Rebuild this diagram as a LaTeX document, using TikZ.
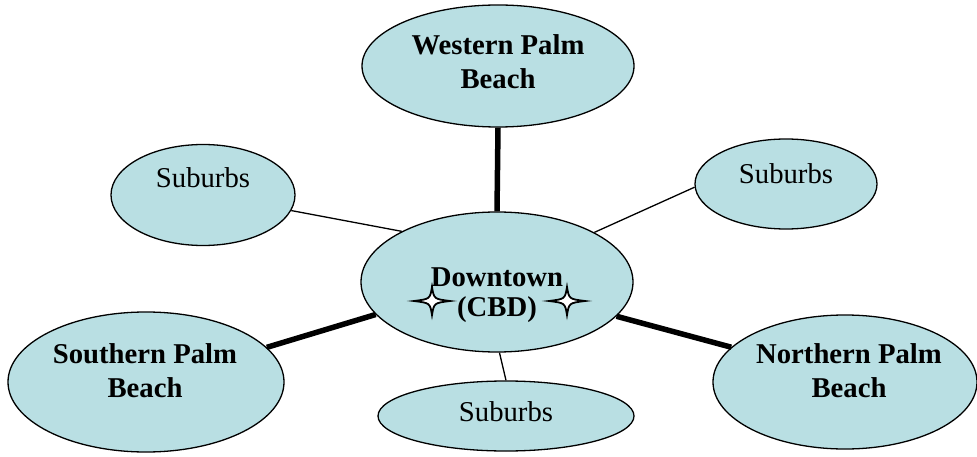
\documentclass[tikz,border=0pt]{standalone}
\usepackage{fontspec}
\setmainfont{Liberation Serif}
\usetikzlibrary{shapes.geometric}
\definecolor{aqua}{RGB}{185,223,227}
\tikzset{
  oval/.style={ellipse, draw=black, line width=1.3pt, fill=aqua, inner sep=0pt},
  big/.style={font=\fontsize{28.7}{34}\selectfont\bfseries, align=center, anchor=base},
  small/.style={font=\fontsize{28.7}{34}\selectfont, anchor=base},
  thickln/.style={line width=5.5pt},
  thinln/.style={line width=1.3pt},
  sparkle/.style={draw=black, line width=1.8pt, fill=white, line join=miter}
}
\begin{document}
\begin{tikzpicture}[x=1pt,y=-1pt]
\path[use as bounding box] (0,0) rectangle (977,457);
% ovals
\node[oval, minimum width=272pt, minimum height=122pt] (w) at (498,66) {};
\node[oval, minimum width=184pt, minimum height=101pt] (sl) at (203,195) {};
\node[oval, minimum width=182pt, minimum height=90pt] (sr) at (786,184) {};
\node[oval, minimum width=272pt, minimum height=140pt] (d) at (497,282) {};
\node[oval, minimum width=276pt, minimum height=140pt] (s) at (146,382) {};
\node[oval, minimum width=264pt, minimum height=134pt] (n) at (845,382) {};
\node[oval, minimum width=256pt, minimum height=70pt] (sb) at (506,416) {};
% connectors
\draw[thickln] (w.south) -- (d.north);
\draw[thinln] (d.152.7) -- (sl.-10.5);
\draw[thinln] (d.27.3) -- (sr.182);
\draw[thickln] (d.195.75) -- (s.16.3);
\draw[thickln] (d.-16) -- (n.163.3);
\draw[thinln] (d.-88) -- (sb.north);
% texts
\node[big] (wt1) at (498,55) {Western Palm};
\node[big] (wt2) at (498,89) {Beach};
\node[big] (dt1) at (497,286) {Downtown};
\node[big] (dt2) at (497,316) {(CBD)};
\node[big] (st1) at (145,363) {Southern Palm};
\node[big] (st2) at (145,397) {Beach};
\node[big] (nt1) at (849,363) {Northern Palm};
\node[big] (nt2) at (849,397) {Beach};
\node[small] (slt) at (203,188) {Suburbs};
\node[small] (srt) at (786,184) {Suburbs};
\node[small] (sbt) at (506,421) {Suburbs};
% sparkles
\foreach \cx/\cy in {432/301, 567/301}{
  \draw[sparkle] (\cx+18,\cy) .. controls (\cx+2,\cy+2) .. (\cx,\cy+14)
    .. controls (\cx-2,\cy+2) .. (\cx-18,\cy)
    .. controls (\cx-2,\cy-2) .. (\cx,\cy-14)
    .. controls (\cx+2,\cy-2) .. cycle;
}
\end{tikzpicture}
\end{document}
